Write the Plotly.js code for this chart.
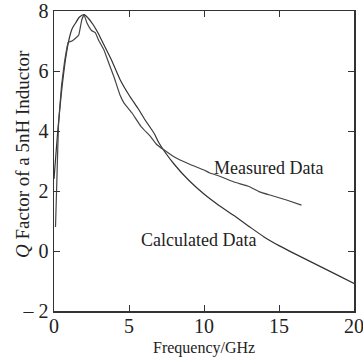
<!DOCTYPE html>
<html><head><meta charset="utf-8">
<script src="https://cdn.plot.ly/plotly-3.0.1.min.js"></script>
<style>html,body{margin:0;padding:0;background:#fff}#chart{width:363px;height:357px}</style>
</head><body><div id="chart"></div>
<script>
var calcX = [0, 0.25, 0.5, 0.8, 1.0, 1.2, 1.44, 1.7, 2.0, 2.3, 2.6, 2.9, 3.3, 3.8, 4.4, 5.0, 5.6, 6.1, 6.7, 7.0, 8, 9, 10, 11, 12, 13, 14, 15, 16, 17, 18, 19, 20];
var calcY = [2.4, 4.0, 5.3, 6.5, 7.05, 7.4, 7.6, 7.8, 7.88, 7.75, 7.55, 7.3, 6.9, 6.4, 5.72, 5.2, 4.75, 4.35, 3.9, 3.6, 2.9, 2.35, 1.9, 1.52, 1.18, 0.82, 0.47, 0.18, -0.08, -0.33, -0.58, -0.83, -1.08];
var measX = [0.1, 0.2, 0.3, 0.5, 0.7, 0.95, 1.2, 1.45, 1.65, 1.85, 2.0, 2.2, 2.5, 2.75, 3.0, 3.33, 3.7, 4.0, 4.4, 4.67, 5.2, 5.8, 6.44, 6.84, 7.3, 8, 9, 10, 10.4, 11, 12, 13, 13.7, 14.5, 15.5, 16.5];
var measY = [0.8, 2.5, 4.2, 5.5, 6.3, 6.95, 7.0, 7.1, 7.2, 7.7, 7.87, 7.6, 7.35, 7.28, 7.0, 6.7, 6.2, 5.8, 5.2, 4.93, 4.6, 4.15, 3.81, 3.55, 3.38, 3.14, 2.9, 2.7, 2.6, 2.5, 2.3, 2.15, 1.97, 1.85, 1.7, 1.53];
var xTicks = [0, 5, 10, 15, 20];
var yTickVals = [-2, 0, 2, 4, 6, 8];
var yTickText = ['– 2', '0', '2', '4', '6', '8'];
var labels = ['Measured Data', 'Calculated Data'];
var xTitle = 'Frequency/GHz';
var yTitle = '<i>Q</i> Factor of a 5nH Inductor';

var font = 'Liberation Serif, Times New Roman, serif';
var data = [
  {x: calcX, y: calcY, mode: 'lines', line: {color: '#333', width: 1.2, shape: 'spline', smoothing: 0.6}, showlegend: false, hoverinfo: 'skip'},
  {x: measX, y: measY, mode: 'lines', line: {color: '#444', width: 1.2, shape: 'spline', smoothing: 0.3}, showlegend: false, hoverinfo: 'skip'}
];
var pw = 363 - 54 - 9, ph = 357 - 11 - 46;
var layout = {
  width: 363, height: 357,
  margin: {l: 54, r: 9, t: 11, b: 46},
  paper_bgcolor: '#fff', plot_bgcolor: '#fff',
  font: {family: font, color: '#222', size: 18},
  xaxis: {range: [0, 20], tickvals: xTicks, ticktext: xTicks.map(String), tickmode: 'array',
    ticks: 'inside', ticklen: 6, tickcolor: '#333', showline: true, linecolor: '#333', linewidth: 1.5, mirror: 'allticks',
    showgrid: false, zeroline: false, tickfont: {size: 20, family: font}, ticklabeloverflow: 'allow', ticklabelstandoff: -4},
  yaxis: {range: [-2, 8], tickvals: yTickVals, ticktext: yTickText, tickmode: 'array',
    ticks: 'inside', ticklen: 6, tickcolor: '#333', showline: true, linecolor: '#333', linewidth: 1.5, mirror: 'allticks',
    showgrid: false, zeroline: false, tickfont: {size: 20, family: font}, ticklabeloverflow: 'allow'},
  annotations: [
    {x: 14.33, y: 2.77, xref: 'x', yref: 'y', text: labels[0], showarrow: false, font: {size: 18, family: font, color: '#222'}},
    {x: 9.6, y: 0.37, xref: 'x', yref: 'y', text: labels[1], showarrow: false, font: {size: 18, family: font, color: '#222'}},
    {x: (204 - 54) / pw, y: (311 - 348) / ph, xref: 'paper', yref: 'paper', xanchor: 'center', yanchor: 'middle',
      text: xTitle, showarrow: false, font: {size: 16, family: font, color: '#222'}},
    {x: (22 - 54) / pw, y: (311 - 154) / ph, xref: 'paper', yref: 'paper', xanchor: 'center', yanchor: 'middle',
      text: yTitle, textangle: -90, showarrow: false, font: {size: 19, family: font, color: '#222'}}
  ]
};
Plotly.newPlot('chart', data, layout, {staticPlot: true});
</script></body></html>
